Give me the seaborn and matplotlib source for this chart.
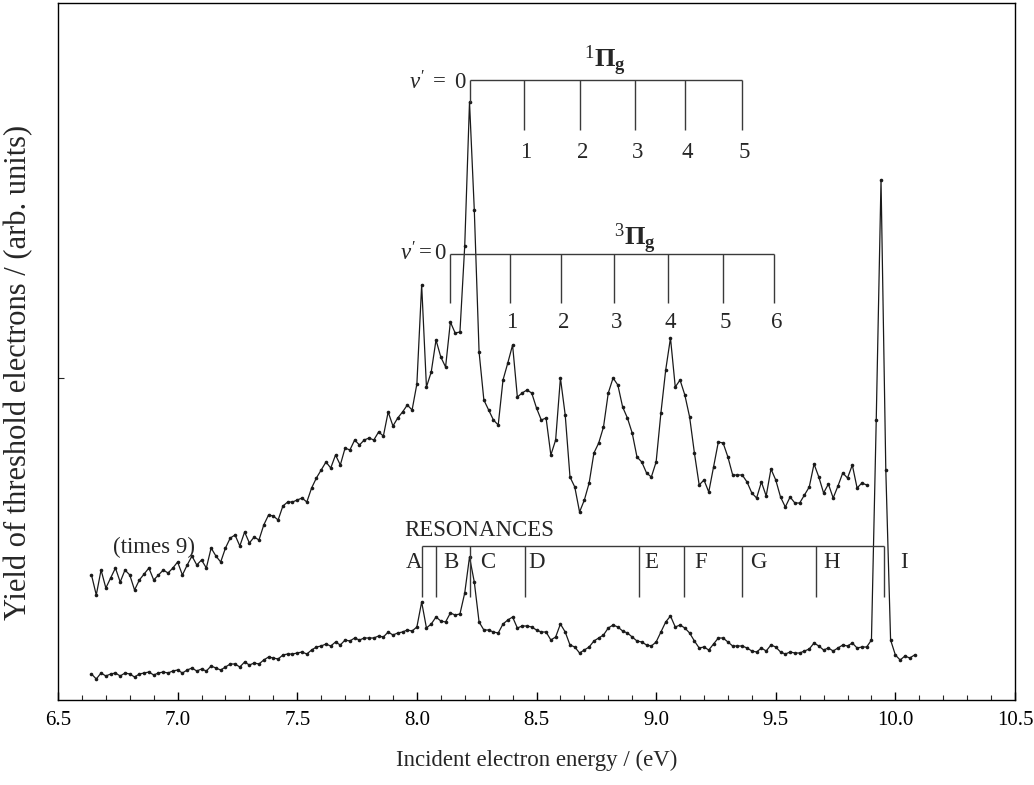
import numpy as np
import pandas as pd
import matplotlib
matplotlib.use("Agg")
import matplotlib.pyplot as plt
import seaborn as sns
from matplotlib.ticker import MultipleLocator

# ==========================================
# DATA
# ==========================================

# scan step of the spectrometer (eV)
energy_step = 0.02

# upper trace, magnified (times 9), from 6.64 eV
upper_start = 6.64
yield_upper = [
    12.5, 10.5, 13.0, 11.2, 12.2, 13.2, 11.8, 13.0, 12.5, 11.0,
    12.0, 12.6, 13.2, 12.0, 12.5, 13.0, 12.7, 13.2, 13.8, 12.5,
    13.5, 14.4, 13.5, 14.0, 13.2, 15.2, 14.4, 13.8, 15.2, 16.2,
    16.5, 15.4, 16.8, 15.7, 16.3, 16.0, 17.5, 18.5, 18.4, 18.0,
    19.4, 19.8, 19.8, 20.0, 20.2, 19.8, 21.2, 22.2, 23.0, 23.8,
    23.2, 24.5, 23.5, 25.2, 25.0, 26.0, 25.5, 26.0, 26.2, 26.0,
    26.8, 26.4, 28.8, 27.4, 28.2, 28.8, 29.5, 29.0, 31.6, 41.5,
    31.3, 32.8, 36.0, 34.3, 33.3, 37.8, 36.7, 36.8, 45.4, 59.8,
    49.0, 34.8, 30.0, 29.0, 28.0, 27.5, 32.0, 33.7, 35.5, 30.3,
    30.7, 31.0, 30.7, 29.2, 28.0, 28.2, 24.5, 26.0, 32.2, 28.5,
    22.3, 21.3, 18.8, 20.0, 21.7, 24.7, 25.7, 27.3, 30.7, 32.2,
    31.5, 29.3, 28.2, 26.7, 24.3, 23.8, 22.7, 22.3, 23.8, 28.7,
    33.0, 36.2, 31.3, 32.0, 30.5, 28.3, 24.7, 21.5, 22.0, 20.8,
    23.3, 25.8, 25.7, 24.3, 22.5, 22.5, 22.5, 21.8, 20.7, 20.2,
    21.8, 20.4, 23.1, 22.0, 20.3, 19.3, 20.3, 19.7, 19.7, 20.5,
    21.3, 23.6, 22.3, 20.7, 21.6, 20.2, 21.4, 22.7, 22.2, 23.5,
    21.2, 21.7, 21.5,
]

# lower trace, as measured, from 6.64 eV
lower_start = 6.64
yield_lower = [
    2.6, 2.1, 2.7, 2.4, 2.6, 2.7, 2.4, 2.7, 2.6, 2.3,
    2.6, 2.7, 2.8, 2.5, 2.7, 2.8, 2.7, 2.9, 3.0, 2.7,
    3.0, 3.2, 2.9, 3.1, 2.9, 3.4, 3.2, 3.0, 3.3, 3.6,
    3.6, 3.3, 3.8, 3.5, 3.7, 3.6, 4.0, 4.3, 4.2, 4.1,
    4.5, 4.6, 4.6, 4.7, 4.8, 4.6, 5.0, 5.3, 5.4, 5.6,
    5.4, 5.8, 5.5, 6.0, 5.9, 6.2, 6.0, 6.2, 6.2, 6.2,
    6.4, 6.3, 6.8, 6.5, 6.7, 6.8, 7.0, 6.9, 7.3, 9.8,
    7.2, 7.6, 8.3, 7.9, 7.8, 8.7, 8.5, 8.6, 10.7, 14.3,
    11.8, 7.8, 7.0, 7.0, 6.8, 6.7, 7.6, 8.0, 8.3, 7.2,
    7.4, 7.4, 7.3, 7.0, 6.8, 6.8, 6.0, 6.3, 7.6, 6.8,
    5.5, 5.3, 4.7, 5.0, 5.3, 5.9, 6.2, 6.5, 7.2, 7.5,
    7.3, 6.9, 6.7, 6.3, 5.9, 5.8, 5.5, 5.4, 5.8, 6.8,
    7.8, 8.4, 7.3, 7.5, 7.2, 6.7, 5.9, 5.2, 5.3, 5.0,
    5.6, 6.2, 6.2, 5.8, 5.4, 5.4, 5.4, 5.2, 4.9, 4.8,
    5.2, 4.9, 5.5, 5.3, 4.8, 4.6, 4.8, 4.7, 4.7, 4.9,
    5.1, 5.7, 5.4, 5.0, 5.2, 4.9, 5.2, 5.5, 5.4, 5.7,
    5.2, 5.3, 5.3, 6.0, 28.0, 52.0, 23.0, 6.0, 4.5, 4.0,
    4.4, 4.2, 4.5,
]

# vibrational progressions (eV)
pi1_levels = [8.221, 8.446, 8.683, 8.913, 9.121, 9.358]
pi3_levels = [8.138, 8.388, 8.604, 8.825, 9.050, 9.279, 9.492]

# resonances (eV) and label positions
res_names = ["A", "B", "C", "D", "E", "F", "G", "H", "I"]
res_energies = [8.021, 8.079, 8.221, 8.450, 8.929, 9.117, 9.358, 9.667, 9.954]
res_label_x = [7.988, 8.142, 8.296, 8.500, 8.979, 9.188, 9.429, 9.733, 10.038]

# ==========================================
# BUILD DATAFRAMES
# ==========================================

df_upper = pd.DataFrame({
    "energy": np.round(upper_start + energy_step * np.arange(len(yield_upper)), 3),
    "yield": yield_upper,
})
df_lower = pd.DataFrame({
    "energy": np.round(lower_start + energy_step * np.arange(len(yield_lower)), 3),
    "yield": yield_lower,
})

# ==========================================
# STYLE
# ==========================================

sns.set_theme(style="ticks")
plt.rcParams["font.family"] = ["Liberation Serif", "DejaVu Serif"]
plt.rcParams["mathtext.fontset"] = "custom"
plt.rcParams["mathtext.rm"] = "Liberation Serif"
plt.rcParams["mathtext.it"] = "Liberation Serif:italic"
plt.rcParams["mathtext.bf"] = "Liberation Serif:bold"

ink = "#1a1a1a"
ann = "#3a3a3a"

fig = plt.figure(figsize=(10.34, 7.85), dpi=100)
ax = fig.add_axes([58 / 1034, 85 / 785, 957 / 1034, 697 / 785])

# ==========================================
# CURVES
# ==========================================

for df in (df_upper, df_lower):
    sns.lineplot(
        data=df, x="energy", y="yield", ax=ax,
        color=ink, linewidth=0.9, marker="o", markersize=2.6,
        markeredgewidth=0, markerfacecolor=ink, errorbar=None,
    )

# ==========================================
# ANNOTATIONS
# ==========================================

fs = 16.5

# 1Pi_g progression
y1 = 62.0
ax.hlines(y1, pi1_levels[0], pi1_levels[-1], color=ann, lw=1.0)
ax.vlines(pi1_levels[0], 59.8, y1, color=ann, lw=1.0)
ax.vlines(pi1_levels[1:], 57.0, y1, color=ann, lw=1.0)
ax.text(pi1_levels[0] - 0.012, y1 - 0.3, r"$v^{\prime}\ =\ 0$", ha="right",
        va="center", fontsize=fs)
for i, e in enumerate(pi1_levels[1:], start=1):
    ax.text(e + 0.01, 54.8, str(i), ha="center", va="center", fontsize=fs)
ax.text(8.787, 63.9, r"$^{1}\mathbf{\Pi}_{\mathbf{g}}$", ha="center",
        va="center", fontsize=19)

# 3Pi_g progression
y3 = 44.6
ax.hlines(y3, pi3_levels[0], pi3_levels[-1], color=ann, lw=1.0)
ax.vlines(pi3_levels, 39.7, y3, color=ann, lw=1.0)
ax.text(pi3_levels[0] - 0.012, y3, r"$v^{\prime}=0$", ha="right",
        va="center", fontsize=fs)
for i, e in enumerate(pi3_levels[1:], start=1):
    ax.text(e + 0.01, 37.7, str(i), ha="center", va="center", fontsize=fs)
ax.text(8.912, 46.1, r"$^{3}\mathbf{\Pi}_{\mathbf{g}}$", ha="center",
        va="center", fontsize=19)

# resonances
yr = 15.4
ax.hlines(yr, res_energies[0], res_energies[-1], color=ann, lw=1.0)
ax.vlines(res_energies, 10.3, yr, color=ann, lw=1.0)
ax.text(7.946, 16.9, "RESONANCES", ha="left", va="center", fontsize=fs)
for name, xl in zip(res_names, res_label_x):
    ax.text(xl, 13.8, name, ha="center", va="center", fontsize=fs)

ax.text(6.90, 15.3, "(times 9)", ha="center", va="center", fontsize=fs)

# ==========================================
# AXES
# ==========================================

ax.set_xlim(6.5, 10.5)
ax.set_ylim(0, 69.7)
ax.set_xticks(np.arange(6.5, 10.51, 0.5))
ax.set_xticklabels([f"{t:.1f}" for t in np.arange(6.5, 10.51, 0.5)],
                   fontsize=15)
ax.xaxis.set_minor_locator(MultipleLocator(0.1))
ax.set_yticks([32.2])
ax.set_yticklabels([])

ax.tick_params(axis="x", which="major", direction="in", length=6, width=1.0,
               pad=8, top=False, bottom=True, colors="black")
ax.tick_params(axis="x", which="minor", direction="in", length=3.5, width=0.8,
               top=False, bottom=True)
ax.tick_params(axis="y", direction="in", length=4, width=0.8,
               left=True, right=False)

for side in ["top", "bottom", "left", "right"]:
    ax.spines[side].set_visible(True)
    ax.spines[side].set_color("black")
    ax.spines[side].set_linewidth(1.0)

ax.set_xlabel("Incident electron energy / (eV)", fontsize=16.5, labelpad=14)
ax.set_ylabel("Yield of threshold electrons / (arb. units)", fontsize=22)
ax.yaxis.set_label_coords(-0.026, 0.47)

fig.savefig("out.png", dpi=100)
